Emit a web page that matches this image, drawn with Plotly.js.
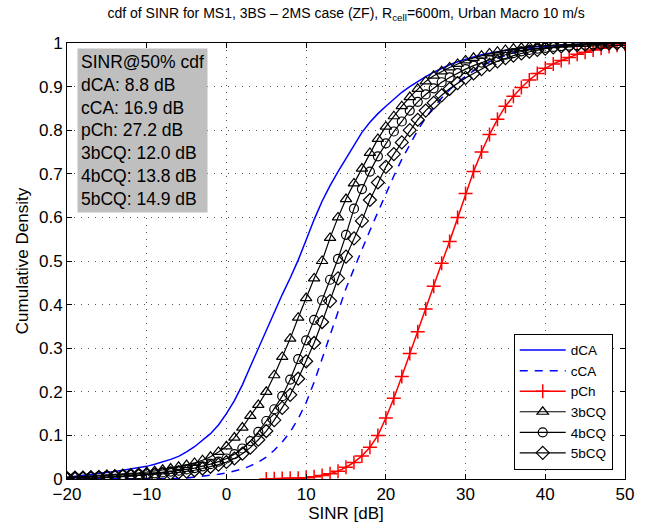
<!DOCTYPE html>
<html>
<head>
<meta charset="utf-8">
<script src="https://cdn.plot.ly/plotly-3.0.1.min.js"></script>
<style>html,body{margin:0;padding:0;background:#fff;}#chart{width:663px;height:529px;}</style>
</head>
<body>
<div id="chart"></div>
<script>
// SINR grid [dB], one point per dB
const sinr = [-20,-19,-18,-17,-16,-15,-14,-13,-12,-11,-10,-9,-8,-7,-6,-5,-4,-3,-2,-1,0,1,2,3,4,5,6,7,8,9,10,11,12,13,14,15,16,17,18,19,20,21,22,23,24,25,26,27,28,29,30,31,32,33,34,35,36,37,38,39,40,41,42,43,44,45,46,47,48,49,50];

const dCA = [0.004,0.006,0.008,0.010,0.012,0.015,0.017,0.020,0.023,0.026,0.029,0.034,0.039,0.045,0.052,0.062,0.074,0.088,0.104,0.124,0.150,0.180,0.216,0.258,0.300,0.342,0.383,0.423,0.461,0.502,0.548,0.595,0.637,0.673,0.705,0.735,0.765,0.795,0.818,0.838,0.855,0.872,0.887,0.900,0.912,0.923,0.933,0.942,0.950,0.957,0.963,0.968,0.973,0.977,0.980,0.983,0.986,0.988,0.990,0.991,0.993,0.994,0.995,0.996,0.997,0.997,0.998,0.998,0.999,0.999,1.000];

const cCA = [0,0,0,0,0,0,0,0,0,0,0,0,0,0,0.001,0.002,0.004,0.006,0.008,0.011,0.014,0.018,0.023,0.030,0.039,0.050,0.066,0.085,0.108,0.138,0.175,0.222,0.275,0.330,0.385,0.437,0.482,0.527,0.570,0.612,0.655,0.695,0.733,0.768,0.800,0.828,0.853,0.874,0.893,0.909,0.924,0.936,0.947,0.957,0.965,0.972,0.978,0.983,0.987,0.990,0.992,0.994,0.995,0.996,0.997,0.998,0.998,0.999,0.999,0.999,1.000];

const sinrPCh = [5,6,7,8,9,10,11,12,13,14,15,16,17,18,19,20,21,22,23,24,25,26,27,28,29,30,31,32,33,34,35,36,37,38,39,40,41,42,43,44,45,46,47,48,49,50];
const pCh = [0.000,0.0005,0.001,0.0015,0.002,0.003,0.005,0.008,0.012,0.018,0.027,0.038,0.053,0.073,0.100,0.140,0.185,0.235,0.288,0.338,0.390,0.442,0.495,0.545,0.600,0.655,0.705,0.750,0.790,0.825,0.855,0.878,0.898,0.915,0.930,0.942,0.952,0.960,0.967,0.974,0.979,0.984,0.988,0.992,0.995,0.997];

const bCQ3 = [0.004,0.005,0.006,0.007,0.008,0.009,0.010,0.011,0.012,0.014,0.016,0.018,0.021,0.024,0.028,0.032,0.037,0.043,0.051,0.062,0.075,0.095,0.118,0.145,0.170,0.200,0.238,0.280,0.322,0.370,0.415,0.460,0.500,0.553,0.600,0.642,0.678,0.712,0.748,0.780,0.808,0.832,0.855,0.876,0.895,0.912,0.925,0.935,0.944,0.952,0.960,0.966,0.971,0.976,0.980,0.984,0.987,0.989,0.991,0.993,0.994,0.995,0.996,0.997,0.998,0.998,0.999,0.999,0.999,1.000,1.000];

const bCQ4 = [0.003,0.004,0.004,0.005,0.006,0.007,0.008,0.009,0.010,0.011,0.012,0.013,0.015,0.017,0.019,0.022,0.025,0.029,0.034,0.040,0.047,0.057,0.070,0.087,0.108,0.133,0.160,0.190,0.228,0.275,0.318,0.365,0.410,0.457,0.505,0.560,0.620,0.665,0.705,0.740,0.770,0.797,0.820,0.845,0.865,0.882,0.896,0.910,0.921,0.931,0.940,0.948,0.955,0.962,0.968,0.973,0.977,0.981,0.984,0.987,0.989,0.991,0.993,0.994,0.995,0.996,0.997,0.998,0.999,0.999,1.000];

const bCQ5 = [0.002,0.003,0.003,0.004,0.004,0.005,0.006,0.007,0.007,0.008,0.009,0.010,0.011,0.013,0.015,0.017,0.020,0.024,0.028,0.033,0.039,0.047,0.058,0.072,0.090,0.110,0.135,0.163,0.193,0.230,0.270,0.312,0.360,0.408,0.460,0.510,0.552,0.592,0.640,0.680,0.716,0.745,0.772,0.800,0.824,0.845,0.863,0.880,0.895,0.908,0.920,0.930,0.940,0.950,0.958,0.965,0.971,0.976,0.980,0.984,0.987,0.990,0.992,0.994,0.995,0.996,0.997,0.998,0.999,0.999,1.000];

const seriesNames = ["dCA","cCA","pCh","3bCQ","4bCQ","5bCQ"];
const boxLines = ["SINR@50% cdf","dCA: 8.8 dB","cCA: 16.9 dB","pCh: 27.2 dB","3bCQ: 12.0 dB","4bCQ: 13.8 dB","5bCQ: 14.9 dB"];
const xTicks = [-20,-10,0,10,20,30,40,50];
const yTicks = [0,0.1,0.2,0.3,0.4,0.5,0.6,0.7,0.8,0.9,1];

const FONT = "Liberation Sans, Arial, Helvetica, sans-serif";

const traces = [
  {x: sinr, y: dCA, name: seriesNames[0], mode: "lines", line: {color: "#0000ff", width: 1.5}},
  {x: sinr, y: cCA, name: seriesNames[1], mode: "lines", line: {color: "#0000ff", width: 1.5, dash: "8px,7px"}},
  {x: sinrPCh, y: pCh, name: seriesNames[2], mode: "lines+markers", line: {color: "#ff0000", width: 1.5},
   marker: {symbol: "cross-thin-open", size: 10, color: "#ff0000", line: {color: "#ff0000", width: 1.5}}},
  {x: sinr, y: bCQ3, name: seriesNames[3], mode: "lines+markers", line: {color: "#000000", width: 1.2},
   marker: {symbol: "triangle-up-open", size: 10, color: "#000000", line: {color: "#000000", width: 1.2}}},
  {x: sinr, y: bCQ4, name: seriesNames[4], mode: "lines+markers", line: {color: "#000000", width: 1.2},
   marker: {symbol: "circle-open", size: 9, color: "#000000", line: {color: "#000000", width: 1.2}}},
  {x: sinr, y: bCQ5, name: seriesNames[5], mode: "lines+markers", line: {color: "#000000", width: 1.2},
   marker: {symbol: "diamond-open", size: 10, color: "#000000", line: {color: "#000000", width: 1.2}}}
];

const axisCommon = {
  showline: true, linecolor: "#000", linewidth: 1, mirror: "allticks",
  ticks: "inside", ticklen: 5, tickcolor: "#000", tickwidth: 1,
  showgrid: true, gridcolor: "#555", gridwidth: 1, griddash: "1px,6px",
  zeroline: false, tickfont: {family: FONT, size: 17, color: "#000"}
};

const layout = {
  width: 663, height: 529,
  margin: {l: 67, r: 38, t: 43, b: 50},
  paper_bgcolor: "#fff", plot_bgcolor: "#fff",
  font: {family: FONT, color: "#000"},
  title: {text: "cdf of SINR for MS1, 3BS \u2013 2MS case (ZF), R<sub>cell</sub>=600m, Urban Macro 10 m/s",
          font: {family: FONT, size: 14, color: "#000"}, x: 0.522, xanchor: "center", y: 0.975, yanchor: "middle"},
  xaxis: Object.assign({}, axisCommon, {range: [-20, 50], tickvals: xTicks,
          title: {text: "SINR [dB]", font: {family: FONT, size: 17}, standoff: 3}}),
  yaxis: Object.assign({}, axisCommon, {range: [0, 1], tickvals: yTicks,
          title: {text: "Cumulative Density", font: {family: FONT, size: 17}, standoff: 6}}),
  showlegend: true,
  legend: {x: 0.978, y: 0.021, xanchor: "right", yanchor: "bottom", bgcolor: "#fff",
           bordercolor: "#000", borderwidth: 1, font: {family: FONT, size: 13.5, color: "#000"},
           itemwidth: 46, tracegroupgap: 0},
  annotations: [{
    xref: "paper", yref: "paper", x: 0.018, y: 0.989, xanchor: "left", yanchor: "top",
    text: boxLines.join("<br>"), align: "left", showarrow: false,
    bgcolor: "#bfbfbf", borderpad: 3, font: {family: FONT, size: 17.5, color: "#000"}
  }]
};

Plotly.newPlot("chart", traces, layout, {displayModeBar: false, staticPlot: true});
</script>
</body>
</html>
